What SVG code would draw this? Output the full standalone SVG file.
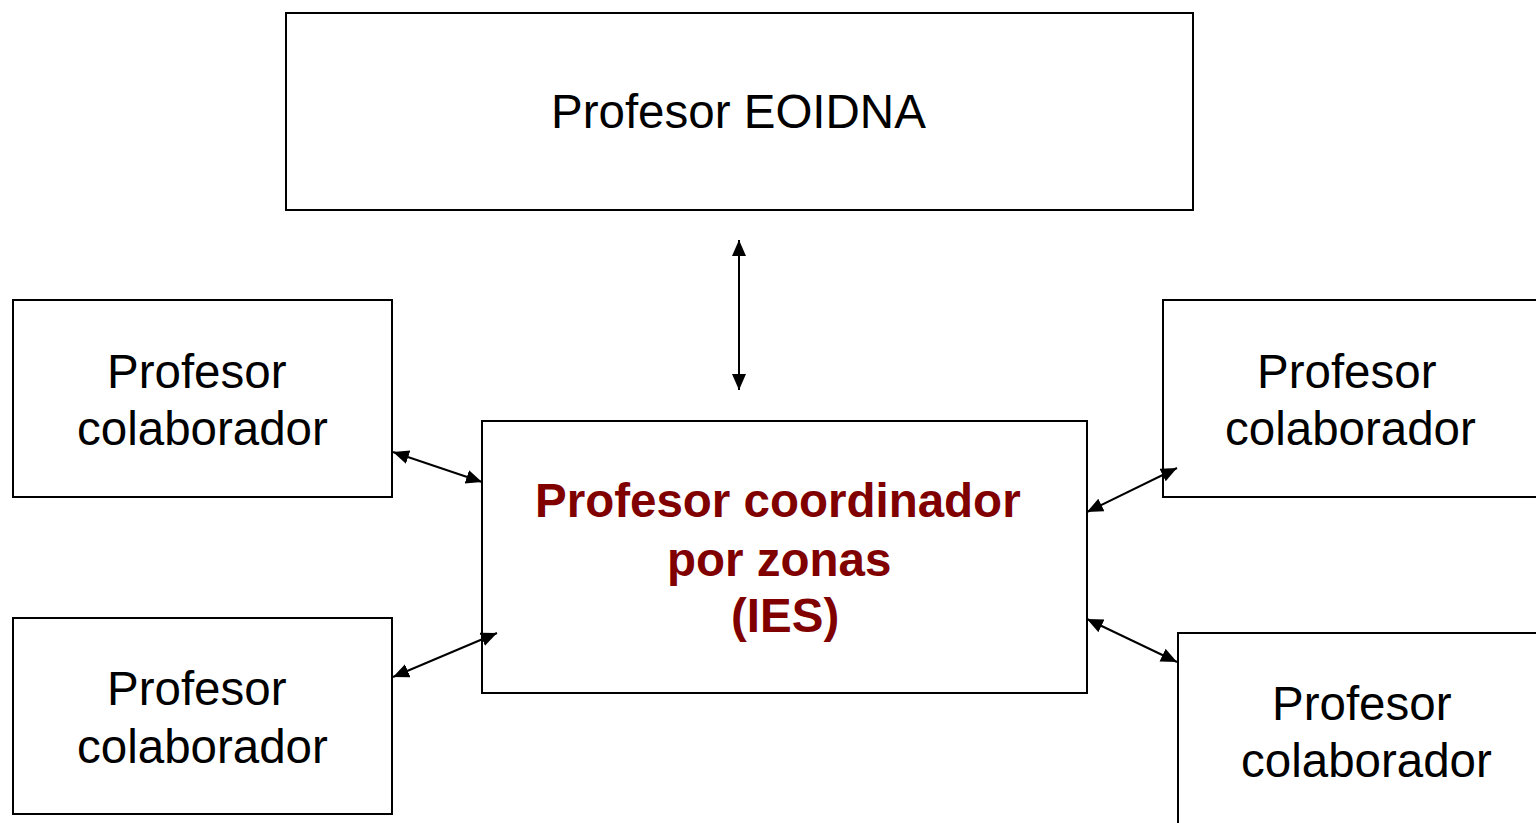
<svg xmlns="http://www.w3.org/2000/svg" width="1536" height="823" viewBox="0 0 1536 823">
<defs>
<style>
.box{fill:#fff;stroke:#000;stroke-width:2}
.t{font-family:"Liberation Sans",Arial,sans-serif;font-size:47.5px;fill:#000}
.b{font-family:"Liberation Sans",Arial,sans-serif;font-size:47.5px;font-weight:bold;fill:#800000}
.c{stroke:#000;stroke-width:2;fill:none;marker-start:url(#ah);marker-end:url(#ah)}
</style>
<marker id="ah" markerUnits="userSpaceOnUse" markerWidth="18" markerHeight="16" refX="16" refY="7" orient="auto-start-reverse">
<path d="M0,0 L16,7 L0,14 z" fill="#000"/>
</marker>
</defs>
<rect width="1536" height="823" fill="#fff"/>
<g id="top">
<rect class="box" x="286" y="13" width="907" height="197"/>
<text class="t" x="551" y="128">Profesor EOIDNA</text>
</g>
<g id="center">
<rect class="box" x="482" y="421" width="605" height="272"/>
<text class="b" x="535" y="517">Profesor coordinador</text>
<text class="b" x="667" y="576">por zonas</text>
<text class="b" x="731" y="632">(IES)</text>
</g>
<g id="leftTop">
<rect class="box" x="13" y="300" width="379" height="197"/>
<text class="t" x="107" y="388">Profesor</text>
<text class="t" x="77" y="445">colaborador</text>
</g>
<g id="leftBottom">
<rect class="box" x="13" y="618" width="379" height="196"/>
<text class="t" x="107" y="705">Profesor</text>
<text class="t" x="77" y="763">colaborador</text>
</g>
<g id="rightTop">
<rect class="box" x="1163" y="300" width="390" height="197"/>
<text class="t" x="1257" y="388">Profesor</text>
<text class="t" x="1225" y="445">colaborador</text>
</g>
<g id="rightBottom">
<rect class="box" x="1178" y="633" width="380" height="220"/>
<text class="t" x="1272" y="720">Profesor</text>
<text class="t" x="1241" y="777">colaborador</text>
</g>
<g id="connectors">
<line class="c" x1="739" y1="240" x2="739" y2="390"/>
<line class="c" x1="393" y1="452" x2="482" y2="482"/>
<line class="c" x1="393" y1="677" x2="497" y2="633"/>
<line class="c" x1="1087" y1="512" x2="1177" y2="468"/>
<line class="c" x1="1087" y1="619" x2="1177" y2="662"/>
</g>
</svg>
